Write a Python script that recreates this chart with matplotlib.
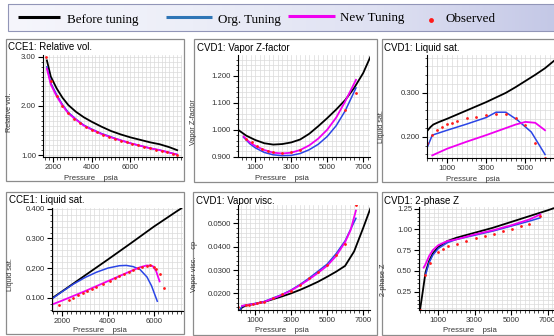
import matplotlib
matplotlib.use('Agg')
import matplotlib.pyplot as plt
import numpy as np
from matplotlib.patches import Rectangle
from matplotlib.ticker import AutoMinorLocator, FormatStrFormatter
from matplotlib.colors import LinearSegmentedColormap

# ---- data (pressure in psia) ----
# CCE1: Relative vol.
rv_p = [1700, 1900, 2200, 2500, 2800, 3200, 3600, 4000, 4500, 5000, 5500, 6000, 6500, 7000, 7500, 8000, 8400]
rv_before = [2.93, 2.60, 2.36, 2.17, 2.02, 1.88, 1.77, 1.68, 1.58, 1.49, 1.42, 1.36, 1.31, 1.26, 1.22, 1.16, 1.10]
rv_org = [2.80, 2.47, 2.23, 2.03, 1.87, 1.73, 1.61, 1.53, 1.44, 1.37, 1.30, 1.24, 1.19, 1.14, 1.10, 1.05, 1.01]
rv_new = [2.76, 2.44, 2.20, 2.01, 1.85, 1.72, 1.60, 1.52, 1.43, 1.36, 1.30, 1.24, 1.19, 1.14, 1.10, 1.05, 1.01]
rv_obs_p = [1650, 1900, 2200, 2500, 2800, 3100, 3400, 3700, 4000, 4300, 4600, 4900, 5200, 5500,
            5800, 6100, 6400, 6700, 7000, 7300, 7600, 7900, 8200, 8400]
rv_obs = [3.00, 2.52, 2.20, 2.00, 1.85, 1.74, 1.65, 1.58, 1.51, 1.46, 1.41, 1.37, 1.33, 1.29,
          1.26, 1.23, 1.20, 1.17, 1.14, 1.11, 1.08, 1.06, 1.03, 1.01]

# CVD1: Vapor Z-factor
vz_p_before = [40, 500, 1000, 1500, 2000, 2500, 3000, 3500, 4000, 4500, 5000, 5500, 6000, 6500, 7000, 7400]
vz_before = [1.000, 0.978, 0.962, 0.950, 0.945, 0.947, 0.953, 0.964, 0.985, 1.013, 1.043, 1.075, 1.110, 1.155, 1.210, 1.270]
vz_p = [350, 700, 1000, 1500, 2000, 2500, 3000, 3500, 4000, 4500, 5000, 5500, 6000, 6600]
vz_org = [0.972, 0.948, 0.933, 0.916, 0.907, 0.904, 0.905, 0.912, 0.926, 0.946, 0.975, 1.015, 1.070, 1.155]
vz_new = [0.975, 0.953, 0.940, 0.925, 0.915, 0.912, 0.915, 0.925, 0.942, 0.967, 1.000, 1.045, 1.105, 1.185]
vz_obs_p = [500, 800, 1100, 1400, 1700, 2000, 2500, 3000, 3500, 6000, 6600]
vz_obs = [0.967, 0.955, 0.940, 0.928, 0.921, 0.916, 0.914, 0.917, 0.925, 1.075, 1.137]

# CVD1: Liquid sat.
ls_p_before = [0, 150, 300, 600, 1000, 2000, 3000, 4000, 4500, 5000, 5500, 6000, 6600]
ls_before = [0.214, 0.222, 0.228, 0.234, 0.241, 0.260, 0.279, 0.300, 0.313, 0.327, 0.341, 0.356, 0.378]
ls_p = [0, 250, 1000, 2000, 3000, 3500, 4000, 4600, 5300, 6000]
ls_org = [0.177, 0.204, 0.215, 0.229, 0.244, 0.256, 0.256, 0.238, 0.211, 0.160]
ls_p_new = [250, 1000, 2000, 3000, 4000, 4500, 5000, 5500, 6000]
ls_new = [0.158, 0.173, 0.189, 0.204, 0.220, 0.228, 0.234, 0.232, 0.215]
ls_obs_p = [0, 250, 500, 750, 1000, 1250, 1500, 2000, 2500, 3000, 3500, 4000, 4500, 5000, 5500, 6000]
ls_obs = [0.185, 0.205, 0.215, 0.223, 0.229, 0.232, 0.236, 0.242, 0.246, 0.250, 0.252, 0.252, 0.243, 0.227, 0.185, 0.151]

# CCE1: Liquid sat.
cl_p_before = [1600, 2000, 3000, 4000, 5000, 6000, 7000, 7200]
cl_before = [0.100, 0.121, 0.175, 0.229, 0.284, 0.340, 0.392, 0.402]
cl_p_org = [1600, 2000, 2500, 3000, 3500, 4000, 4500, 4800, 5100, 5400, 5700, 5900, 6150]
cl_org = [0.098, 0.120, 0.146, 0.168, 0.186, 0.200, 0.208, 0.209, 0.205, 0.195, 0.170, 0.140, 0.088]
cl_p_new = [1600, 2000, 2500, 3000, 3500, 4000, 4500, 5000, 5400, 5700, 5950, 6100, 6250]
cl_new = [0.078, 0.090, 0.106, 0.122, 0.139, 0.156, 0.173, 0.190, 0.203, 0.209, 0.207, 0.190, 0.155]
cl_obs_p = [1850, 2300, 2500, 2700, 2900, 3100, 3300, 3500, 3800, 4100, 4300, 4500, 4700, 4900,
            5100, 5300, 5500, 5700, 5850, 6000, 6100, 6250, 6450]
cl_obs = [0.074, 0.092, 0.100, 0.108, 0.115, 0.122, 0.129, 0.136, 0.147, 0.157, 0.165, 0.172, 0.180, 0.187,
          0.193, 0.199, 0.204, 0.207, 0.209, 0.205, 0.198, 0.180, 0.133]

# CVD1: Vapor visc. (cp)
vv_p_before = [150, 300, 500, 1000, 1500, 2000, 2500, 3000, 3500, 4000, 4500, 5000, 5500, 6000, 6500, 7000, 7400]
vv_before = [0.0125, 0.0140, 0.0148, 0.0155, 0.0163, 0.0175, 0.0187, 0.0200, 0.0215, 0.0232, 0.0250, 0.0271,
             0.0293, 0.0318, 0.0380, 0.0480, 0.0564]
vv_p_org = [150, 300, 500, 1000, 1500, 2000, 2500, 3000, 3500, 4000, 4500, 5000, 5500, 6000, 6600]
vv_org = [0.0125, 0.0145, 0.0150, 0.0157, 0.0165, 0.0180, 0.0195, 0.0214, 0.0238, 0.0265, 0.0295, 0.0325,
          0.0370, 0.0425, 0.0522]
vv_p_new = [300, 500, 1000, 1500, 2000, 2500, 3000, 3500, 4000, 4500, 5000, 5500, 6000, 6300, 6600]
vv_new = [0.0147, 0.0150, 0.0155, 0.0163, 0.0178, 0.0193, 0.0212, 0.0235, 0.0260, 0.0288, 0.0318, 0.0360,
          0.0420, 0.0470, 0.0555]
vv_obs_p = [100, 500, 700, 900, 1100, 1300, 1500, 2000, 2500, 3000, 3500, 4000, 4500, 5000, 5500, 6000, 6600]
vv_obs = [0.0143, 0.0150, 0.0152, 0.0155, 0.0158, 0.0162, 0.0165, 0.0180, 0.0197, 0.0212, 0.0237, 0.0265,
          0.0292, 0.0322, 0.0365, 0.0410, 0.0580]

# CVD1: 2-phase Z
tz_p_before = [0, 150, 300, 500, 700, 1000, 1500, 2000, 3000, 4000, 5000, 6000, 7000, 7400]
tz_before = [0.03, 0.25, 0.48, 0.62, 0.71, 0.79, 0.86, 0.90, 0.96, 1.02, 1.09, 1.16, 1.23, 1.26]
tz_p_org = [300, 500, 700, 1000, 1500, 2000, 3000, 4000, 5000, 6000, 6600]
tz_org = [0.45, 0.60, 0.69, 0.77, 0.84, 0.88, 0.93, 0.98, 1.04, 1.10, 1.14]
tz_p_new = [200, 300, 500, 700, 1000, 1500, 2000, 3000, 4000, 5000, 6000, 6600]
tz_new = [0.54, 0.58, 0.68, 0.75, 0.81, 0.86, 0.88, 0.94, 0.99, 1.05, 1.12, 1.18]
tz_obs_p = [0, 300, 540, 1000, 1250, 1550, 2050, 2550, 3050, 3550, 4050, 4550, 5050, 5550, 6000, 6600]
tz_obs = [0.03, 0.45, 0.59, 0.73, 0.77, 0.80, 0.83, 0.86, 0.90, 0.92, 0.95, 0.98, 1.01, 1.04, 1.07, 1.16]

# colours
c_before = 'black'
c_org = '#2b45e6'
c_new = '#f000f0'
c_obs = '#ff1a1a'

W, H = 554, 336
fig = plt.figure(figsize=(W / 100, H / 100), dpi=100)

# background axes in pixel coords
bg = fig.add_axes([0, 0, 1, 1])
cmap = LinearSegmentedColormap.from_list('bar', ['#f6f6fc', '#eceef8', '#dfe1f2', '#c3c7e6'])
bg.imshow(np.linspace(0, 1, 256).reshape(1, -1), extent=(8, 562, 31, 4), cmap=cmap, aspect='auto', zorder=0)
bg.add_patch(Rectangle((8, 4), 554, 27, fill=False, ec='#9296b8', lw=0.8))
bg.set_xlim(0, W)
bg.set_ylim(H, 0)
bg.axis('off')

# legend keys
serif = 'Liberation Serif'
bg.plot([18, 60], [17, 17], color=c_before, lw=2.2, solid_capstyle='butt')
bg.text(67, 19.5, 'Before tuning', fontfamily=serif, fontsize=9.4, va='center')
bg.plot([166, 212], [17, 17], color='#2e75b6', lw=2.2, solid_capstyle='butt')
bg.text(218, 19.5, 'Org. Tuning', fontfamily=serif, fontsize=9.4, va='center')
bg.plot([288, 335], [15.5, 15.5], color=c_new, lw=2.2, solid_capstyle='butt')
bg.text(340, 18.5, 'New Tuning', fontfamily=serif, fontsize=9.4, va='center')
bg.plot([431], [20], 'o', color=c_obs, ms=3.5, mec='none')
bg.text(445, 19.5, 'Observed', fontfamily=serif, fontsize=9.4, va='center')

# panel frames
boxes = [(6, 39, 184, 181), (194, 39, 377, 182), (382, 39, 562, 182),
         (6, 192, 184, 334), (193, 192, 377, 335), (382, 192, 562, 335)]
for l, t, r, b in boxes:
    bg.add_patch(Rectangle((l, t), r - l, b - t, fill=False, ec='#8c8c8c', lw=0.9))

sans = 'Liberation Sans'


def panel(rect, title, title_xy, ylabel, ylabel_xy, xlabel_xy, xlim, ylim,
          xticks, yticks, yfmt, xminor, yminor):
    l, t, r, b = rect
    ax = fig.add_axes([l / W, 1 - b / H, (r - l) / W, (b - t) / H])
    ax.set_xlim(xlim)
    ax.set_ylim(ylim)
    ax.set_xticks(xticks)
    ax.set_yticks(yticks)
    ax.yaxis.set_major_formatter(FormatStrFormatter(yfmt))
    ax.xaxis.set_minor_locator(AutoMinorLocator(xminor))
    ax.yaxis.set_minor_locator(AutoMinorLocator(yminor))
    ax.grid(which='both', color='#dadada', lw=0.5)
    ax.set_axisbelow(True)
    for s in ['top', 'right']:
        ax.spines[s].set_visible(False)
    for s in ['left', 'bottom']:
        ax.spines[s].set_linewidth(0.8)
    ax.tick_params(which='major', length=3.5, width=0.8, labelsize=5.6, pad=1.5, labelcolor='#333333')
    ax.tick_params(which='minor', length=1.8, width=0.5)
    for lab in ax.get_xticklabels() + ax.get_yticklabels():
        lab.set_fontfamily(sans)
    ax.set_xlabel('Pressure    psia', fontsize=5.6, fontfamily=sans, color='#333333')
    ax.set_ylabel(ylabel, fontsize=5.2, fontfamily=sans, color='#333333')
    ax.xaxis.set_label_coords(*xlabel_xy, transform=bg.transData)
    ax.yaxis.set_label_coords(*ylabel_xy, transform=bg.transData)
    bg.text(title_xy[0], title_xy[1], title, fontfamily=sans, fontsize=7, va='center', ha='left')
    return ax


def draw(ax, pb, yb, po, yo, pn, yn, pobs, yobs):
    ax.plot(pb, yb, color=c_before, lw=1.3)
    ax.plot(po, yo, color=c_org, lw=1.1)
    ax.plot(pn, yn, color=c_new, lw=1.3)
    ax.plot(pobs, yobs, 'o', color=c_obs, ms=2.0, mec='none')


ax1 = panel((43, 55, 182, 157), 'CCE1: Relative vol.', (8, 47), 'Relative vol.', (13, 112), (91, 175),
            (1500, 8650), (0.96, 3.04), [2000, 4000, 6000], [1.0, 2.0, 3.0], '%.2f', 10, 10)
draw(ax1, rv_p, rv_before, rv_p, rv_org, rv_p, rv_new, rv_obs_p, rv_obs)

ax2 = panel((238, 55, 370, 157), 'CVD1: Vapor Z-factor', (197, 48), 'Vapor Z-factor', (197, 122), (282, 175),
            (40, 7380), (0.899, 1.277), [1000, 3000, 5000, 7000], [0.9, 1.0, 1.1, 1.2], '%.3f', 8, 5)
draw(ax2, vz_p_before, vz_before, vz_p, vz_org, vz_p, vz_new, vz_obs_p, vz_obs)

ax3 = panel((427, 55, 556, 158), 'CVD1: Liquid sat.', (384, 48), 'Liquid sat.', (385, 127), (473, 176),
            (-20, 6560), (0.152, 0.386), [1000, 3000, 5000], [0.2, 0.3], '%.3f', 8, 5)
draw(ax3, ls_p_before, ls_before, ls_p, ls_org, ls_p_new, ls_new, ls_obs_p, ls_obs)

ax4 = panel((52, 208, 183, 311), 'CCE1: Liquid sat.', (9, 200), 'Liquid sat.', (14, 275), (100, 327),
            (1565, 7270), (0.055, 0.403), [2000, 4000, 6000], [0.1, 0.2, 0.3, 0.4], '%.3f', 10, 5)
draw(ax4, cl_p_before, cl_before, cl_p_org, cl_org, cl_p_new, cl_new, cl_obs_p, cl_obs)

ax5 = panel((238, 205, 370, 310), 'CVD1: Vapor visc.', (196, 201), 'Vapor visc.    cp', (198, 267), (282, 327),
            (74, 7380), (0.0129, 0.0579), [1000, 3000, 5000, 7000], [0.02, 0.03, 0.04, 0.05], '%.4f', 8, 5)
draw(ax5, vv_p_before, vv_before, vv_p_org, vv_org, vv_p_new, vv_new, vv_obs_p, vv_obs)

ax6 = panel((419, 207, 556, 310), 'CVD1: 2-phase Z', (384, 201), '2-phase Z', (387, 280), (470, 327),
            (-55, 7460), (0.03, 1.27), [1000, 3000, 5000, 7000], [0.25, 0.5, 0.75, 1.0, 1.25], '%.2f', 8, 5)
draw(ax6, tz_p_before, tz_before, tz_p_org, tz_org, tz_p_new, tz_new, tz_obs_p, tz_obs)

fig.savefig('out.png', dpi=100)
